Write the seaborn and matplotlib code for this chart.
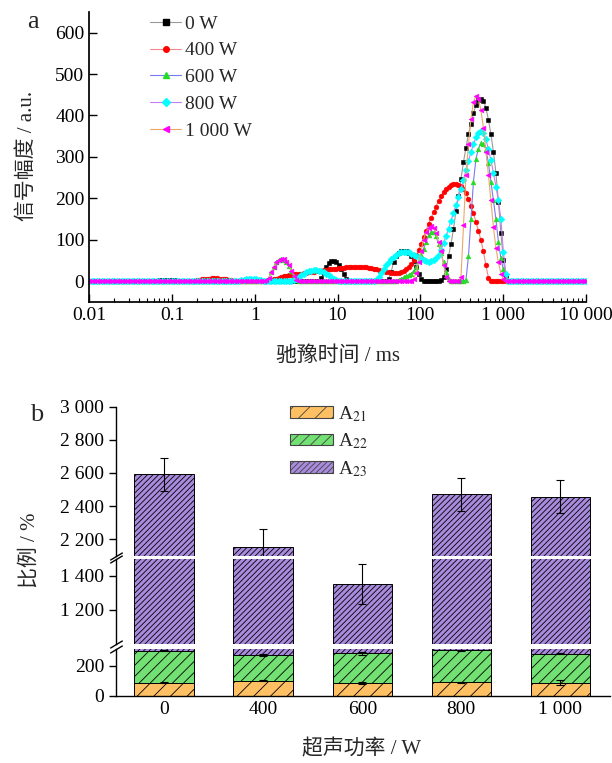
import numpy as np
import matplotlib
matplotlib.use('Agg')
import matplotlib.pyplot as plt
import seaborn as sns
from matplotlib.lines import Line2D
from matplotlib.patches import Patch

sns.set_theme(style='ticks')
plt.rcParams['font.family'] = ['Liberation Serif', 'Noto Sans CJK SC']
plt.rcParams['mathtext.fontset'] = 'stix'
plt.rcParams['hatch.linewidth'] = 0.6
plt.rcParams['axes.edgecolor'] = 'black'
plt.rcParams['xtick.color'] = 'black'
plt.rcParams['ytick.color'] = 'black'

# ---- panel a: T2 relaxation spectra (instrument grid, 200 points 0.01-10000 ms)
n_points = 200
t2_ms = np.logspace(-2, 4, n_points)

# non-zero runs of each spectrum: {start index: amplitudes}
amp_0w = {
    27: [1, 2, 2, 3, 3, 3, 2, 2, 1],
    93: [8, 20, 35, 44, 48, 48, 45, 38, 28, 16, 6, 1],
    120: [5, 22, 45, 60, 68, 72, 73, 72, 68, 60, 48, 35, 18, 5],
    141: [2, 10, 30, 60, 90, 125, 170, 205, 247, 287, 322, 355, 380, 405,
          425, 438, 440, 436, 418, 390, 355, 312, 262, 192, 115, 50, 12],
}
amp_400w = {
    42: [1, 2, 3, 4, 5, 6, 6, 7, 7, 7, 6, 6, 5, 4, 3, 2, 1],
    73: [2, 4, 6, 8, 10, 12, 13, 14, 15, 16, 17, 18, 18, 19, 20, 21, 22, 22,
         23, 24, 25, 26, 27, 28, 29, 30, 30, 31, 32, 32, 33, 33, 33, 34, 34,
         34, 34, 33, 33, 32, 31, 30, 28, 27, 25, 24, 22, 21, 20, 20, 19, 20,
         21, 24, 28, 33, 40, 50, 62, 74, 90, 106, 122, 138, 152, 166, 180,
         194, 205, 214, 222, 228, 232, 234, 235, 233, 229, 222, 212, 198, 182,
         165, 142, 122, 98, 72, 38, 8],
}
amp_600w = {
    71: [2, 8, 22, 35, 45, 50, 52, 51, 46, 37, 24, 11, 3],
    124: [3, 6, 9, 12, 15, 18, 24, 35, 48, 62, 78, 95, 110, 119, 118, 108,
          90, 68, 45, 22, 5],
    151: [3, 60, 150, 240, 295, 320, 333, 330, 318, 285, 240, 195, 150, 95,
          55, 28, 8],
}
amp_800w = {
    60: [1, 2, 3, 4, 5, 5, 5, 4, 3, 2, 1],
    82: [2, 6, 10, 14, 18, 21, 23, 25, 26, 26, 25, 24, 21, 18, 14, 10, 6, 3, 1],
    115: [3, 10, 20, 28, 38, 46, 53, 58, 63, 67, 70, 71, 71, 69, 66, 63, 60,
          57, 53, 50, 48, 47, 48, 51, 56, 64, 76, 92, 108, 126, 146, 165, 183,
          202, 222, 245, 268, 290, 312, 330, 347, 357, 362, 358, 342, 318, 292,
          262, 228, 195, 150, 70, 18],
}
amp_1000w = {
    71: [2, 8, 22, 35, 45, 51, 53, 52, 47, 38, 25, 12, 3],
    130: [5, 20, 45, 72, 100, 118, 128, 133, 128, 115, 95, 72, 38, 10],
    149: [10, 135, 255, 330, 392, 432, 448, 440, 412, 370, 312, 257, 195,
          131, 80, 45, 18, 5],
}

power_labels = ['0 W', '400 W', '600 W', '800 W', '1 000 W']
line_colors = ['#9a9a9a', '#f08a8a', '#7a7af0', '#c77ef0', '#eaa868']
marker_colors = ['black', 'red', '#22dd22', 'cyan', 'magenta']
marker_shapes = ['s', 'o', '^', 'D', '<']

# ---- panel b: stacked proportions
powers = ['0', '400', '600', '800', '1 000']
a21 = [88, 100, 86, 91, 88]
a22 = [214, 172, 197, 213, 193]
a23 = [2289, 1878, 1070, 2168, 2175]
a21_err = [3, 3, 6, 3, 15]
a22_err = [5, 5, 12, 4, 5]
a23_err = [99, 111, 117, 100, 101]

bar_colors = ['#ffc063', '#72e072', '#a98bdd']
bar_hatches = ['//', '///', '//////']


def spectrum(runs):
    y = np.zeros(n_points)
    for start, vals in runs.items():
        y[start:start + len(vals)] = vals
    return y


W, H = 612, 763
fig = plt.figure(figsize=(W / 100, H / 100), dpi=100)


def frame(left, top, right, bottom):
    return [left / W, 1 - bottom / H, (right - left) / W, (bottom - top) / H]


# ================= panel a =================
ax1 = fig.add_axes(frame(89.3, 12, 585.7, 301.7))
spectra = [amp_0w, amp_400w, amp_600w, amp_800w, amp_1000w]
handles = []
for runs, lab, lc, mc, mk in zip(spectra, power_labels, line_colors,
                                 marker_colors, marker_shapes):
    sns.lineplot(x=t2_ms, y=spectrum(runs), ax=ax1, color=lc, linewidth=0.8,
                 marker=mk, markersize=3.4, markerfacecolor=mc,
                 markeredgecolor=mc, markeredgewidth=0.4)
    handles.append(Line2D([], [], color=lc, linewidth=0.8, marker=mk,
                          markersize=4, markerfacecolor=mc, markeredgecolor=mc,
                          label=lab))

ax1.set_xscale('log')
ax1.set_xlim(0.01, 10000)
ax1.set_ylim(-50, 650)
ax1.set_xticks([0.01, 0.1, 1, 10, 100, 1000, 10000])
ax1.set_xticklabels(['0.01', '0.1', '1', '10', '100', '1 000', '10 000'])
ax1.set_yticks(range(0, 700, 100))
ax1.tick_params(which='both', direction='in', labelsize=14)
ax1.tick_params(which='major', length=6, width=1)
ax1.tick_params(which='minor', length=3, width=0.8)
ax1.set_xlabel('')
ax1.set_ylabel('')
sns.despine(ax=ax1)
ax1.legend(handles=handles, loc='upper left', frameon=False, fontsize=14,
           bbox_to_anchor=(150 / W, 1 - 15 / H), bbox_transform=fig.transFigure,
           borderpad=0, borderaxespad=0, handlelength=1.6, handletextpad=0.2,
           labelspacing=0.47, numpoints=1)

fig.text(33 / W, 1 - 22 / H, 'a', fontsize=19, ha='center', va='center')
fig.text(27 / W, 1 - 156 / H, '信号幅度 / a.u.', fontsize=15, rotation=90,
         ha='center', va='center')
fig.text(338 / W, 1 - 356 / H, '驰豫时间 / ms', fontsize=15,
         ha='center', va='center')

# ================= panel b (broken axis) =================
ax_top = fig.add_axes(frame(116, 406.7, 610, 555.7))
ax_mid = fig.add_axes(frame(116, 559, 610, 644))
ax_bot = fig.add_axes(frame(116, 649.3, 610, 696))

cum21 = np.array(a21)
cum22 = cum21 + np.array(a22)
total = cum22 + np.array(a23)
layers = [(total, a23_err, bar_colors[2], bar_hatches[2]),
          (cum22, a22_err, bar_colors[1], bar_hatches[1]),
          (cum21, a21_err, bar_colors[0], bar_hatches[0])]

for ax in (ax_top, ax_mid, ax_bot):
    for heights, err, col, hat in layers:
        sns.barplot(x=powers, y=heights, ax=ax, color=col, saturation=1,
                    width=0.6, hatch=hat, edgecolor='black', linewidth=0.7,
                    errorbar=None)
    for heights, err, col, hat in layers:
        ax.errorbar(range(len(powers)), heights, yerr=err, fmt='none',
                    ecolor='black', elinewidth=0.8, capsize=3, capthick=0.8,
                    zorder=5)
    ax.set_xlim(-0.485, 4.5)
    ax.set_xlabel('')
    ax.set_ylabel('')
    ax.tick_params(axis='y', direction='out', length=5, width=1, labelsize=14)
    for s in ('top', 'right'):
        ax.spines[s].set_visible(False)
    ax.spines['left'].set_linewidth(1)

ax_top.set_ylim(2100, 3000)
ax_top.set_yticks([2200, 2400, 2600, 2800, 3000])
ax_top.set_yticklabels(['2 200', '2 400', '2 600', '2 800', '3 000'])
ax_mid.set_ylim(1000, 1500)
ax_mid.set_yticks([1200, 1400])
ax_mid.set_yticklabels(['1 200', '1 400'])
ax_bot.set_ylim(0, 310)
ax_bot.set_yticks([0, 200])
ax_bot.set_yticklabels(['0', '200'])

for ax in (ax_top, ax_mid):
    ax.spines['bottom'].set_visible(False)
    ax.tick_params(axis='x', bottom=False, labelbottom=False)
ax_bot.spines['bottom'].set_linewidth(1)
ax_bot.tick_params(axis='x', direction='in', length=6, width=1, labelsize=14)

brk = dict(marker=[(-1, -0.6), (1, 0.6)], markersize=9, linestyle='none',
           color='black', mec='black', mew=1, clip_on=False)
ax_top.plot([0], [0], transform=ax_top.transAxes, **brk)
ax_mid.plot([0, 0], [0, 1], transform=ax_mid.transAxes, **brk)
ax_bot.plot([0], [1], transform=ax_bot.transAxes, **brk)

leg_handles = [Patch(facecolor=c, edgecolor='#444444', hatch=h, linewidth=0.8,
                     label=l)
               for c, h, l in zip(bar_colors, bar_hatches,
                                  ['A$_{21}$', 'A$_{22}$', 'A$_{23}$'])]
ax_top.legend(handles=leg_handles, loc='upper left', frameon=False,
              fontsize=14, bbox_to_anchor=(290 / W, 1 - 404 / H),
              bbox_transform=fig.transFigure, borderpad=0, borderaxespad=0,
              handlelength=2.2, handleheight=0.55, handletextpad=0.25,
              labelspacing=0.4)

fig.text(37 / W, 1 - 415 / H, 'b', fontsize=19, ha='center', va='center')
fig.text(30 / W, 1 - 550 / H, '比例 / %', fontsize=15, rotation=90,
         ha='center', va='center')
fig.text(362 / W, 1 - 749 / H, '超声功率 / W', fontsize=15,
         ha='center', va='center')

fig.savefig('out.png', dpi=100)
